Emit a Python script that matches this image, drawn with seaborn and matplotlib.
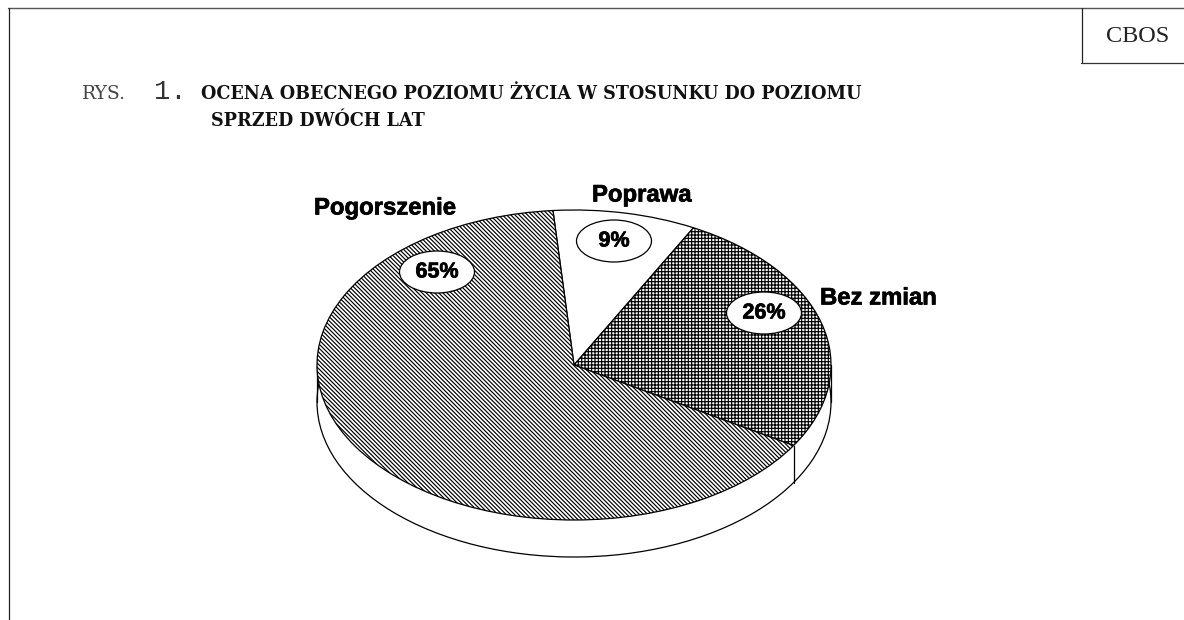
import numpy as np
import matplotlib
matplotlib.use("Agg")
import matplotlib.pyplot as plt
import matplotlib.patheffects as pe
from matplotlib.patches import Ellipse
import seaborn as sns

categories = ["Poprawa", "Bez zmian", "Pogorszenie"]
values = [9, 26, 65]
pct_labels = ["9%", "26%", "65%"]
hatches = [None, "+" * 5, "\\" * 8]
START_ANGLE = 94.7

W, H = 1184, 620
sns.set_theme(style="white")
plt.rcParams["hatch.linewidth"] = 0.85
plt.rcParams["hatch.color"] = "black"
fig = plt.figure(figsize=(W / 100, H / 100), dpi=100, facecolor="white")

cx, cy, rx, ry, depth = 574, 365, 257, 155, 37

def pie_axes(yc, z):
    ax = fig.add_axes([(cx - rx) / W, (H - yc - ry) / H, 2 * rx / W, 2 * ry / H], zorder=z)
    ax.set_axis_off()
    return ax

# side wall: the same pie shifted downward
back = pie_axes(cy + depth, 1)
back.pie([100], startangle=90, colors=["white"],
         wedgeprops=dict(edgecolor="black", linewidth=0.9))
back.set_aspect("auto"); back.set_xlim(-1, 1); back.set_ylim(-1, 1)
for w in back.patches:
    w.set_clip_on(False)

top = pie_axes(cy, 2)
wedges, _ = top.pie(values, startangle=START_ANGLE, counterclock=False, colors=["white"] * 3,
                    wedgeprops=dict(edgecolor="black", linewidth=0.9))
top.set_aspect("auto"); top.set_xlim(-1, 1); top.set_ylim(-1, 1)
for w, h in zip(wedges, hatches):
    w.set_clip_on(False)
    if h:
        w.set_hatch(h)

d = depth / ry
end = np.deg2rad(START_ANGLE - 360 * (values[0] + values[1]) / sum(values))
for x, y in [(-1, 0), (1, 0), (np.cos(end), np.sin(end))]:
    top.plot([x, x], [y, y - d], color="black", lw=0.9, clip_on=False, zorder=0.5)

# overlay in pixel space
ov = fig.add_axes([0, 0, 1, 1], zorder=3)
ov.set_xlim(0, W); ov.set_ylim(H, 0); ov.set_axis_off(); ov.patch.set_alpha(0)

frame = "#555555"
ov.plot([8, W], [8, 8], color=frame, lw=1.0)
ov.plot([8.5, 8.5], [8, H], color="#222222", lw=0.9)
ov.plot([1081.5, 1081.5], [8, 62], color="#222222", lw=0.9)
ov.plot([1081, W], [62.5, 62.5], color="#333333", lw=0.9)
ov.text(1138, 37, "CBOS", family="Liberation Serif", fontsize=17.5, color="#222222",
        ha="center", va="center")

ov.text(82, 99, "RYS.", family="DejaVu Serif", fontsize=13.5, color="#444444", ha="left", va="baseline")
ov.text(154, 99, "1.", family="Liberation Mono", fontsize=19.5, color="#333333", ha="left", va="baseline")
title_kw = dict(family="DejaVu Serif", fontweight="bold", fontsize=12.7, color="#111111", ha="left", va="baseline")
ov.text(201, 99, "OCENA OBECNEGO POZIOMU ŻYCIA W STOSUNKU DO POZIOMU", **title_kw)
ov.text(211, 126, "SPRZED DWÓCH LAT", **title_kw)

stroke = [pe.withStroke(linewidth=0.5, foreground="black")]
label_kw = dict(family="Liberation Sans", fontweight="bold", color="black", va="center", path_effects=stroke)
label_pos = {"Poprawa": (592, 195), "Bez zmian": (820, 298), "Pogorszenie": (314, 208)}
for c in categories:
    ov.text(*label_pos[c], c, fontsize=17.2, ha="left", **label_kw)

oval_pos = {"9%": (614, 241), "26%": (764, 313), "65%": (437, 272)}
for p in pct_labels:
    x, y = oval_pos[p]
    ov.add_patch(Ellipse((x, y), 75, 42, facecolor="white", edgecolor="black", lw=0.9))
    ov.text(x, y, p, fontsize=15.5, ha="center", **label_kw)

fig.savefig("out.png", dpi=100)
